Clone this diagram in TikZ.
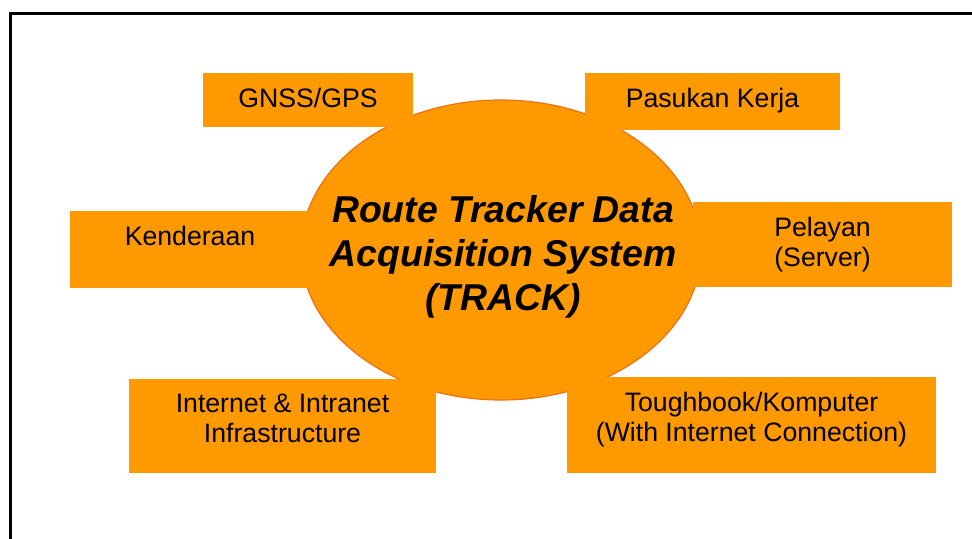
\documentclass[tikz,border=0pt]{standalone}
\usepackage{fontspec}
\setmainfont{Liberation Sans}
\usetikzlibrary{shapes.geometric}

\definecolor{fillorange}{RGB}{255,153,0}
\definecolor{rimorange}{RGB}{240,112,20}

\begin{document}
\begin{tikzpicture}[x=0.75pt, y=-0.75pt,
  pane/.style={rectangle, fill=fillorange, draw=none, inner sep=0pt},
  hub/.style={ellipse, fill=fillorange, draw=rimorange, line width=0.9pt,
              inner sep=0pt, minimum width=300pt, minimum height=225pt},
  caption/.style={anchor=north, inner sep=0pt, align=center,
                  font=\fontsize{20}{22.5}\selectfont},
  headline/.style={anchor=north, inner sep=0pt, align=center,
                   font=\fontsize{28}{33}\selectfont\bfseries\itshape}]

  \useasboundingbox (0,0) rectangle (972,539);
  \clip (0,0) rectangle (972,539);

  % outer frame, running off the right and bottom edges
  \draw[line width=1.9pt] (10.5,13.5) rectangle (1000,600);

  % central system
  \node[hub] (core) at (501,250) {};

  % surrounding components
  \node[pane, minimum width=157.5pt, minimum height=40.5pt]  (gnss)   at (308,100)   {};
  \node[pane, minimum width=191.25pt, minimum height=42.75pt] (crew)  at (712.5,101.5) {};
  \node[pane, minimum width=180pt, minimum height=57.75pt]   (car)    at (190,249.5) {};
  \node[pane, minimum width=194.25pt, minimum height=63.75pt] (server) at (822.5,244.5) {};
  \node[pane, minimum width=230.25pt, minimum height=70.5pt]  (net)   at (282.5,426) {};
  \node[pane, minimum width=276.75pt, minimum height=72pt]    (tough) at (751.5,425) {};

  % texts
  \node[caption] (gnsslbl)   at ([yshift=-11.4pt]gnss.north)   {GNSS/GPS};
  \node[caption] (crewlbl)   at ([yshift=-11.4pt]crew.north)   {Pasukan Kerja};
  \node[caption] (carlbl)    at ([yshift=-11.6pt]car.north)    {Kenderaan};
  \node[caption] (serverlbl) at ([yshift=-11.6pt]server.north) {Pelayan\\(Server)};
  \node[caption] (netlbl)    at ([yshift=-11.6pt]net.north)    {Internet \& Intranet\\Infrastructure};
  \node[caption] (toughlbl)  at ([yshift=-11.6pt]tough.north)  {Toughbook/Komputer\\(With Internet Connection)};

  \node[headline] (title) at (503,195)
    {Route Tracker Data\\Acquisition System\\(TRACK)};
\end{tikzpicture}
\end{document}
